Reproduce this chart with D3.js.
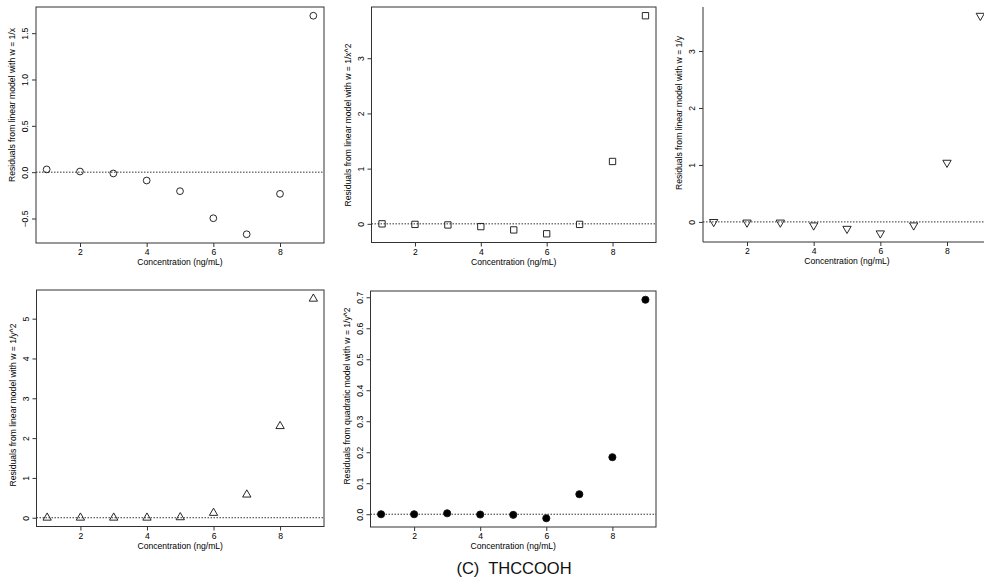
<!DOCTYPE html>
<html>
<head>
<meta charset="utf-8">
<script src="https://cdn.jsdelivr.net/npm/d3@7"></script>
<style>
  body { margin: 0; background: #fff; }
  svg { display: block; font-family: "Liberation Sans", Arial, Helvetica, sans-serif; }
</style>
</head>
<body>
<div id="chart"></div>
<script>
// concentrations (ng/mL)
var conc = [1, 2, 3, 4, 5, 6, 7, 8, 9];

// residuals
var resLinX   = [0.03, 0.007, -0.014, -0.09, -0.205, -0.497, -0.67, -0.234, 1.688];
var resLinX2  = [0.0, -0.01, -0.02, -0.05, -0.11, -0.18, -0.01, 1.13, 3.77];
var resLinY   = [0.0, -0.01, -0.01, -0.06, -0.12, -0.2, -0.06, 1.04, 3.62];
var resLinY2  = [0.0, 0.0, 0.0, 0.0, 0.01, 0.12, 0.58, 2.3, 5.5];
var resQuadY2 = [0.0, 0.0, 0.003, -0.001, -0.002, -0.013, 0.0645, 0.184, 0.692];

var xTicks = [2, 4, 6, 8];
var yTicks1 = [-0.5, 0.0, 0.5, 1.0, 1.5];
var yTicks2 = [0, 1, 2, 3];
var yTicks3 = [0, 1, 2, 3];
var yTicks4 = [0, 1, 2, 3, 4, 5];
var yTicks5 = [0.0, 0.1, 0.2, 0.3, 0.4, 0.5, 0.6, 0.7];

var yTitles = [
  "Residuals from linear model with w = 1/x",
  "Residuals from linear model with w = 1/x^2",
  "Residuals from linear model with w = 1/y",
  "Residuals from linear model with w = 1/y^2",
  "Residuals from quadratic model with w = 1/y^2"
];
var xTitle = "Concentration (ng/mL)";
var caption = "(C)  THCCOOH";

var W = 984, H = 588;
var fs = 8.6;

var svg = d3.select("#chart").append("svg")
    .attr("width", W)
    .attr("height", H);

// panel boxes (pixel layout)
var panels = [
  {res: resLinX,   ticks: yTicks1, fmt: ".1f", mark: "circle",  l: 36,    r: 324, t: 7,   b: 243,   ty: 105, box: true},
  {res: resLinX2,  ticks: yTicks2, fmt: "d",   mark: "square",  l: 371.5, r: 656, t: 7,   b: 242.5, ty: 125, box: true},
  {res: resLinY,   ticks: yTicks3, fmt: "d",   mark: "tridown", l: 703,   r: 991, t: 7,   b: 242,   ty: 113, box: false},
  {res: resLinY2,  ticks: yTicks4, fmt: "d",   mark: "triup",   l: 36.5,  r: 324, t: 290, b: 526.5, ty: 405, box: true},
  {res: resQuadY2, ticks: yTicks5, fmt: ".1f", mark: "dot",     l: 370.5, r: 656, t: 291, b: 527,   ty: 396, box: true}
];

function padded(ext) {
  var p = (ext[1] - ext[0]) * 0.04;
  return [ext[0] - p, ext[1] + p];
}

var ink = "#333";

panels.forEach(function(p, i) {
  var x = d3.scaleLinear().domain(padded(d3.extent(conc))).range([p.l, p.r]);
  var y = d3.scaleLinear().domain(padded(d3.extent(p.res))).range([p.b, p.t]);
  var g = svg.append("g");

  // frame
  if (p.box) {
    g.append("rect")
      .attr("x", p.l).attr("y", p.t)
      .attr("width", p.r - p.l).attr("height", p.b - p.t)
      .attr("fill", "none").attr("stroke", ink).attr("stroke-width", 1);
  } else {
    g.append("path")
      .attr("d", "M" + p.l + "," + p.t + "V" + p.b + "H" + W)
      .attr("fill", "none").attr("stroke", ink).attr("stroke-width", 1);
  }

  // zero reference line
  g.append("line")
    .attr("x1", p.l).attr("x2", p.r)
    .attr("y1", y(0)).attr("y2", y(0))
    .attr("stroke", ink).attr("stroke-width", 1)
    .attr("stroke-dasharray", "1.5,1.5");

  // axes
  var xa = g.append("g")
    .attr("transform", "translate(0," + p.b + ")")
    .call(d3.axisBottom(x).tickValues(xTicks).tickSize(4).tickPadding(2).tickFormat(d3.format("d")));
  xa.select(".domain").remove();
  xa.selectAll("line").attr("stroke", ink);
  xa.selectAll("text").attr("font-size", fs).attr("fill", "#000").attr("font-family", null);

  var ya = g.append("g")
    .attr("transform", "translate(" + p.l + ",0)")
    .call(d3.axisLeft(y).tickValues(p.ticks).tickSize(4).tickFormat(d3.format(p.fmt)));
  ya.select(".domain").remove();
  ya.selectAll("line").attr("stroke", ink);
  ya.selectAll("text")
    .attr("font-size", fs).attr("fill", "#000").attr("font-family", null)
    .attr("text-anchor", "middle").attr("dy", null)
    .attr("x", null)
    .attr("transform", "translate(-8,0) rotate(-90)");

  // axis titles
  g.append("text")
    .attr("x", (x(1) + x(9)) / 2)
    .attr("y", p.b + 22)
    .attr("text-anchor", "middle")
    .attr("font-size", fs)
    .text(xTitle);

  g.append("text")
    .attr("transform", "translate(" + (p.l - 21) + "," + p.ty + ") rotate(-90)")
    .attr("text-anchor", "middle")
    .attr("font-size", fs)
    .text(yTitles[i]);

  // points
  var sym = d3.symbol();
  var pts = g.selectAll(".pt")
    .data(conc.map(function(c, j) { return {c: c, r: p.res[j]}; }))
    .enter().append("path")
    .attr("class", "pt")
    .attr("stroke", "#111")
    .attr("stroke-width", 0.9);

  if (p.mark === "circle") {
    pts.attr("d", sym.type(d3.symbolCircle).size(36)).attr("fill", "none");
  } else if (p.mark === "square") {
    pts.attr("d", sym.type(d3.symbolSquare).size(40)).attr("fill", "none");
  } else if (p.mark === "dot") {
    pts.attr("d", sym.type(d3.symbolCircle).size(40)).attr("fill", "#000");
  } else {
    pts.attr("d", sym.type(d3.symbolTriangle).size(30)).attr("fill", "none");
  }
  pts.attr("transform", function(d) {
    var rot = p.mark === "tridown" ? " rotate(180)" : "";
    return "translate(" + x(d.c) + "," + y(d.r) + ")" + rot;
  });
});

svg.append("text")
  .attr("x", 514)
  .attr("y", 574)
  .attr("text-anchor", "middle")
  .attr("font-size", 16.5)
  .attr("fill", "#111")
  .style("white-space", "pre")
  .text(caption);
</script>
</body>
</html>
